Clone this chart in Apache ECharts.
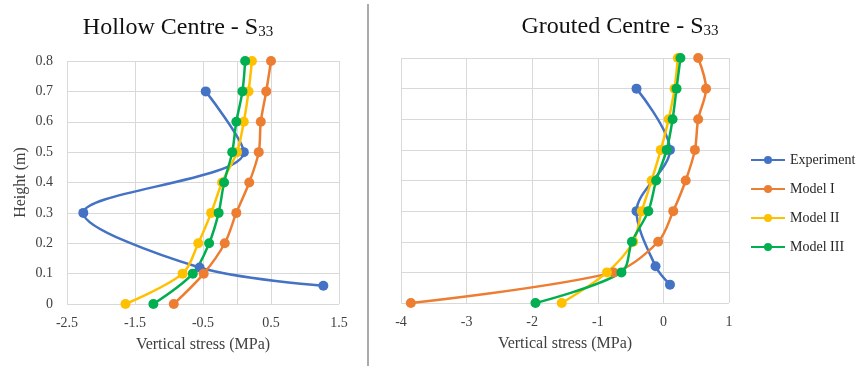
<!DOCTYPE html>
<html>
<head>
<meta charset="utf-8">
<script src="https://cdn.jsdelivr.net/npm/echarts@6/dist/echarts.min.js"></script>
<style>
  html, body { margin: 0; padding: 0; background: #fff; }
  #stress-chart-div { width: 856px; height: 369px; }
</style>
</head>
<body>
<div id="stress-chart-div"></div>
<script>
// heights (m) where stress was read
var modelHeights = [0.8, 0.7, 0.6, 0.5, 0.4, 0.3, 0.2, 0.1, 0];
var expHeights = [0.7, 0.5, 0.3, 0.12, 0.06];

// hollow centre, vertical stress (MPa)
var hollowExp = [-0.46, 0.10, -2.26, -0.55, 1.27];
var hollowModel1 = [0.50, 0.43, 0.35, 0.32, 0.18, -0.01, -0.18, -0.49, -0.93];
var hollowModel2 = [0.22, 0.17, 0.10, 0.00, -0.22, -0.38, -0.57, -0.80, -1.64];
var hollowModel3 = [0.12, 0.08, -0.01, -0.07, -0.19, -0.27, -0.41, -0.65, -1.23];

// grouted centre, vertical stress (MPa)
var groutedExp = [-0.41, 0.10, -0.41, -0.12, 0.10];
var groutedModel1 = [0.53, 0.65, 0.53, 0.48, 0.34, 0.15, -0.08, -0.76, -3.85];
var groutedModel2 = [0.22, 0.17, 0.08, -0.04, -0.18, -0.33, -0.46, -0.86, -1.55];
var groutedModel3 = [0.26, 0.20, 0.14, 0.05, -0.11, -0.23, -0.48, -0.64, -1.95];

var seriesNames = ['Experiment', 'Model I', 'Model II', 'Model III'];
var seriesColors = ['#4472C4', '#ED7D31', '#FFC000', '#00B050'];

var serif = 'Liberation Serif';
var gridColor = '#d9d9d9';
var labelColor = '#404040';

function pairs(xs, ys) {
    return xs.map(function (x, i) { return [x, ys[i]]; });
}

function lineSeries(name, idx, data, heights) {
    var k = seriesNames.indexOf(name);
    return {
        name: name,
        type: 'line',
        xAxisIndex: idx,
        yAxisIndex: idx,
        data: pairs(data, heights),
        smooth: 0.32,
        symbol: 'circle',
        symbolSize: 10,
        color: seriesColors[k],
        lineStyle: { width: 2.5 },
        emphasis: { disabled: true }
    };
}

function titleText(main, sub) {
    return '{a|' + main + '}{b|' + sub + '}';
}

var titleRich = {
    a: { fontFamily: serif, fontSize: 24, fontWeight: 'normal', color: '#111', lineHeight: 24, verticalAlign: 'top' },
    b: { fontFamily: serif, fontSize: 15, fontWeight: 'normal', color: '#111', lineHeight: 24, padding: [9, 0, 0, 0], verticalAlign: 'bottom' }
};

var stress_chartDom = document.getElementById('stress-chart-div');
var stress_myChart = echarts.init(stress_chartDom);
var stress_option;

var hollowSeries = [
    lineSeries('Experiment', 0, hollowExp, expHeights),
    lineSeries('Model I', 0, hollowModel1, modelHeights),
    lineSeries('Model II', 0, hollowModel2, modelHeights),
    lineSeries('Model III', 0, hollowModel3, modelHeights)
];
// the vertical axis of the left plot sits on x = 0
hollowSeries[0].markLine = {
    silent: true,
    z: 1,
    symbol: 'none',
    label: { show: false },
    lineStyle: { color: gridColor, type: 'solid', width: 1 },
    data: [{ xAxis: 0 }]
};

var groutedSeries = [
    lineSeries('Experiment', 1, groutedExp, expHeights),
    lineSeries('Model I', 1, groutedModel1, modelHeights),
    lineSeries('Model II', 1, groutedModel2, modelHeights),
    lineSeries('Model III', 1, groutedModel3, modelHeights)
];

function xAxisFor(idx, min, max) {
    return {
        type: 'value',
        gridIndex: idx,
        min: min,
        max: max,
        interval: 1,
        name: 'Vertical stress (MPa)',
        nameLocation: 'middle',
        nameGap: 33,
        nameTextStyle: { fontFamily: serif, fontSize: 16, color: labelColor },
        axisLine: { show: false },
        axisTick: { show: false },
        axisLabel: { fontFamily: serif, fontSize: 14, color: labelColor, margin: 12 },
        splitLine: { show: true, lineStyle: { color: gridColor, width: 1 } }
    };
}

function yAxisFor(idx, showLabels) {
    return {
        type: 'value',
        gridIndex: idx,
        min: 0,
        max: 0.8,
        interval: 0.1,
        name: showLabels ? 'Height (m)' : '',
        nameLocation: 'middle',
        nameGap: 38,
        nameTextStyle: { fontFamily: serif, fontSize: 16, color: labelColor },
        axisLine: { show: false },
        axisTick: { show: false },
        axisLabel: { show: showLabels, fontFamily: serif, fontSize: 14, color: labelColor, margin: 14 },
        splitLine: { show: true, lineStyle: { color: gridColor, width: 1 } }
    };
}

stress_option = {
    animation: false,
    backgroundColor: '#fff',
    title: [
        {
            text: titleText('Hollow Centre - S', '33'),
            left: 178,
            top: 16,
            padding: 0,
            textAlign: 'center',
            textStyle: { fontWeight: 'normal', rich: titleRich }
        },
        {
            text: titleText('Grouted Centre - S', '33'),
            left: 620,
            top: 15,
            padding: 0,
            textAlign: 'center',
            textStyle: { fontWeight: 'normal', rich: titleRich }
        }
    ],
    legend: {
        orient: 'vertical',
        left: 745,
        top: 147,
        itemWidth: 34,
        itemHeight: 10,
        itemGap: 13,
        selectedMode: false,
        data: seriesNames,
        textStyle: { fontFamily: serif, fontSize: 14, color: '#262626', lineHeight: 16 }
    },
    grid: [
        { left: 67, top: 61, width: 272, height: 243 },
        { left: 401, top: 58, width: 328, height: 245 }
    ],
    xAxis: [xAxisFor(0, -2.5, 1.5), xAxisFor(1, -4, 1)],
    yAxis: [yAxisFor(0, true), yAxisFor(1, false)],
    graphic: [
        {
            type: 'line',
            shape: { x1: 368, y1: 4, x2: 368, y2: 366 },
            style: { stroke: '#ababab', lineWidth: 2 }
        }
    ],
    series: hollowSeries.concat(groutedSeries)
};

if (stress_option && typeof stress_option === 'object') {
    stress_myChart.setOption(stress_option);
}
</script>
</body>
</html>
